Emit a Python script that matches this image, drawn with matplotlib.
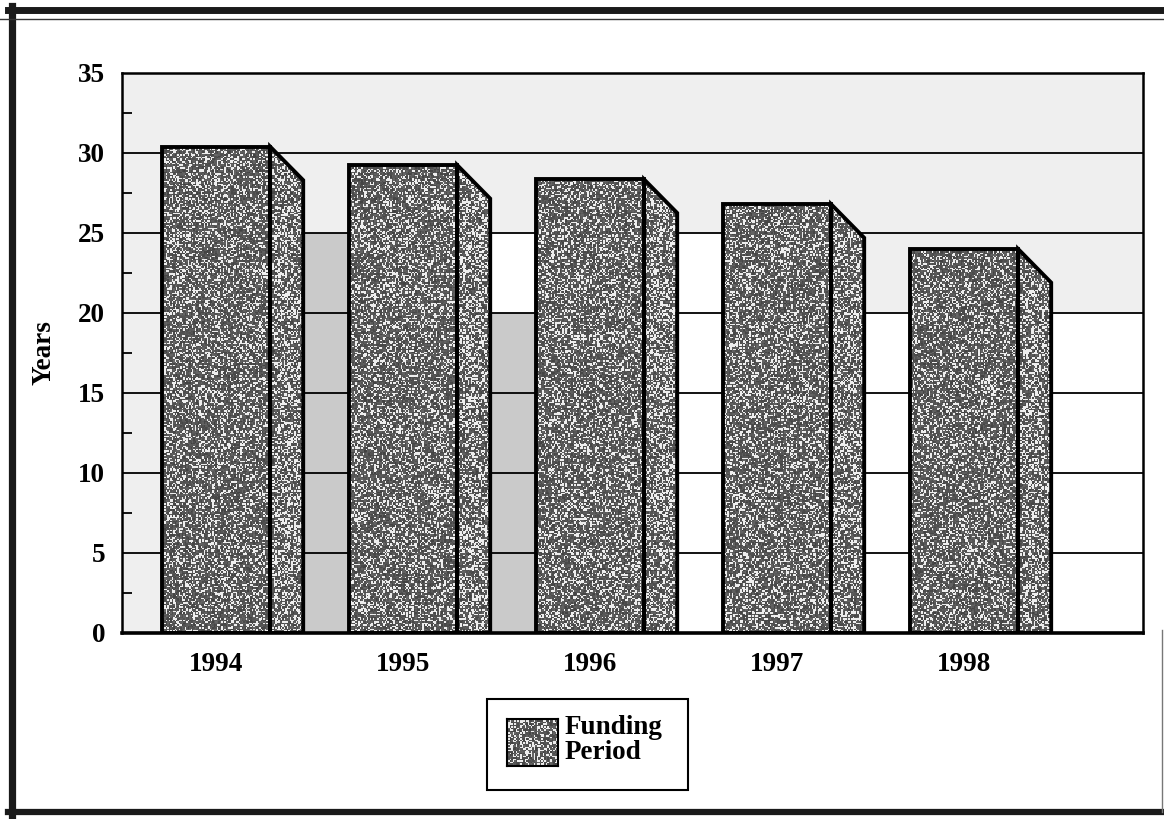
import numpy as np
import matplotlib.pyplot as plt
from matplotlib.patches import Polygon, Rectangle
from matplotlib.lines import Line2D

# data
years = ['1994', '1995', '1996', '1997', '1998']
funding_period = [30.4, 29.25, 28.35, 26.8, 24.0]
y_ticks = [0, 5, 10, 15, 20, 25, 30, 35]
legend_label = 'Funding\nPeriod'

plt.rcParams['font.family'] = ['Liberation Serif', 'DejaVu Serif']
plt.rcParams['font.weight'] = 'bold'


def speckle(h, w, seed, white_frac):
    # deterministic grainy texture that mimics the photocopied fill
    ii, jj = np.mgrid[0:h, 0:w].astype(float)
    n = np.sin(ii * 12.9898 + jj * 78.233 + seed) * 43758.5453
    n = n - np.floor(n)
    m = np.sin(ii * 39.346 + jj * 11.135 + seed * 3.1) * 24634.6345
    m = m - np.floor(m)
    tex = 0.26 + 0.14 * m
    tex[n > 1 - white_frac] = 0.93
    return tex


fig = plt.figure(figsize=(11.64, 8.19), dpi=100)
ax = fig.add_axes([122 / 1164, 1 - 633 / 819, 1021 / 1164, 560 / 819])
ax.set_facecolor('#efefef')

x = np.arange(len(years))
width = 0.578
depth_x = 0.177
depth_y = 2.1
xlim = (-0.503, 4.957)

# back wall shading seen between the bars (scan artefacts of the 3-D wall)
wall = [
    (1, 0, 25, '#cacaca'),
    (2, 0, 20, '#cacaca'), (2, 20, 25, 'white'),
    (3, 0, 25, 'white'),
    (4, 0, 20, 'white'),
    (5, 0, 20, 'white'),
]
for gap, lo, hi, col in wall:
    left = gap - 1 if gap > 0 else xlim[0]
    right = min(gap, xlim[1])
    ax.add_patch(Rectangle((left, lo), right - left, hi - lo, facecolor=col,
                           edgecolor='none', zorder=0.5))

for yv in y_ticks[1:-1]:
    ax.axhline(yv, color='black', lw=1.3, zorder=1)

tex_front = speckle(380, 700, 1.0, 0.27)
tex_side = speckle(380, 700, 7.0, 0.36)

for xi, v in zip(x, funding_period):
    x0, x1 = xi - width / 2, xi + width / 2
    front = [(x0, 0), (x0, v), (x1, v), (x1, 0)]
    side = [(x1, 0), (x1, v), (x1 + depth_x, v - depth_y), (x1 + depth_x, 0)]
    for pts, tex in ((front, tex_front), (side, tex_side)):
        clip = Polygon(pts, closed=True, transform=ax.transData)
        im = ax.imshow(tex, extent=[xlim[0], xlim[1], 0, 35], cmap='gray',
                       vmin=0, vmax=1, interpolation='nearest', aspect='auto',
                       zorder=2)
        im.set_clip_path(clip)
        ax.add_patch(Polygon(pts, closed=True, facecolor='none',
                             edgecolor='black', lw=2.8, joinstyle='miter',
                             zorder=3))

ax.set_xlim(*xlim)
ax.set_ylim(0, 35)
ax.set_yticks(y_ticks)
ax.set_yticklabels([str(t) for t in y_ticks], fontsize=19.5, fontweight='bold')
ax.set_yticks(np.arange(2.5, 35, 5), minor=True)
ax.tick_params(axis='y', which='major', length=0, pad=12)
ax.tick_params(axis='y', which='minor', direction='in', length=7, width=1.3)
ax.set_xticks(x)
ax.set_xticklabels(years, fontsize=19.5, fontweight='bold')
ax.tick_params(axis='x', length=0, pad=14)
ax.set_ylabel('Years', fontsize=19.5, fontweight='bold')
ax.yaxis.set_label_coords(-0.064, 0.5)
for sp in ax.spines.values():
    sp.set_linewidth(1.8)
    sp.set_zorder(4)
ax.spines['bottom'].set_linewidth(2.6)

# legend drawn by hand
fig.patches.append(Rectangle((487 / 1164, 1 - 790 / 819), 201 / 1164, 91 / 819,
                             transform=fig.transFigure, facecolor='white',
                             edgecolor='black', lw=1.5, zorder=-1))
lax = fig.add_axes([507 / 1164, 1 - 766 / 819, 51 / 1164, 47 / 819])
lax.set_zorder(5)
lax.imshow(speckle(32, 34, 3.0, 0.3), cmap='gray', vmin=0, vmax=1,
           interpolation='nearest', aspect='auto')
lax.set_xticks([])
lax.set_yticks([])
for sp in lax.spines.values():
    sp.set_linewidth(1.5)
fig.text(565 / 1164, 1 - 715 / 819, legend_label, ha='left', va='top',
         fontsize=19.5, fontweight='bold', linespacing=1.0)

# page frame from the scan
fig.add_artist(Line2D([11.5 / 1164, 11.5 / 1164], [1 - 6 / 819, 1 - 815 / 819],
                      transform=fig.transFigure, color='#1a1a1a', lw=5.2))
fig.add_artist(Line2D([8 / 1164, 1], [1 - 10 / 819, 1 - 10 / 819],
                      transform=fig.transFigure, color='#1a1a1a', lw=5))
fig.add_artist(Line2D([0, 1], [1 - 19 / 819, 1 - 19 / 819],
                      transform=fig.transFigure, color='#333333', lw=1))
fig.add_artist(Line2D([8 / 1164, 1], [1 - 812 / 819, 1 - 812 / 819],
                      transform=fig.transFigure, color='#1a1a1a', lw=4.5))
fig.add_artist(Line2D([1162 / 1164, 1162 / 1164], [1 - 630 / 819, 1 - 812 / 819],
                      transform=fig.transFigure, color='#777777', lw=1))

fig.savefig('out.png', dpi=100)
